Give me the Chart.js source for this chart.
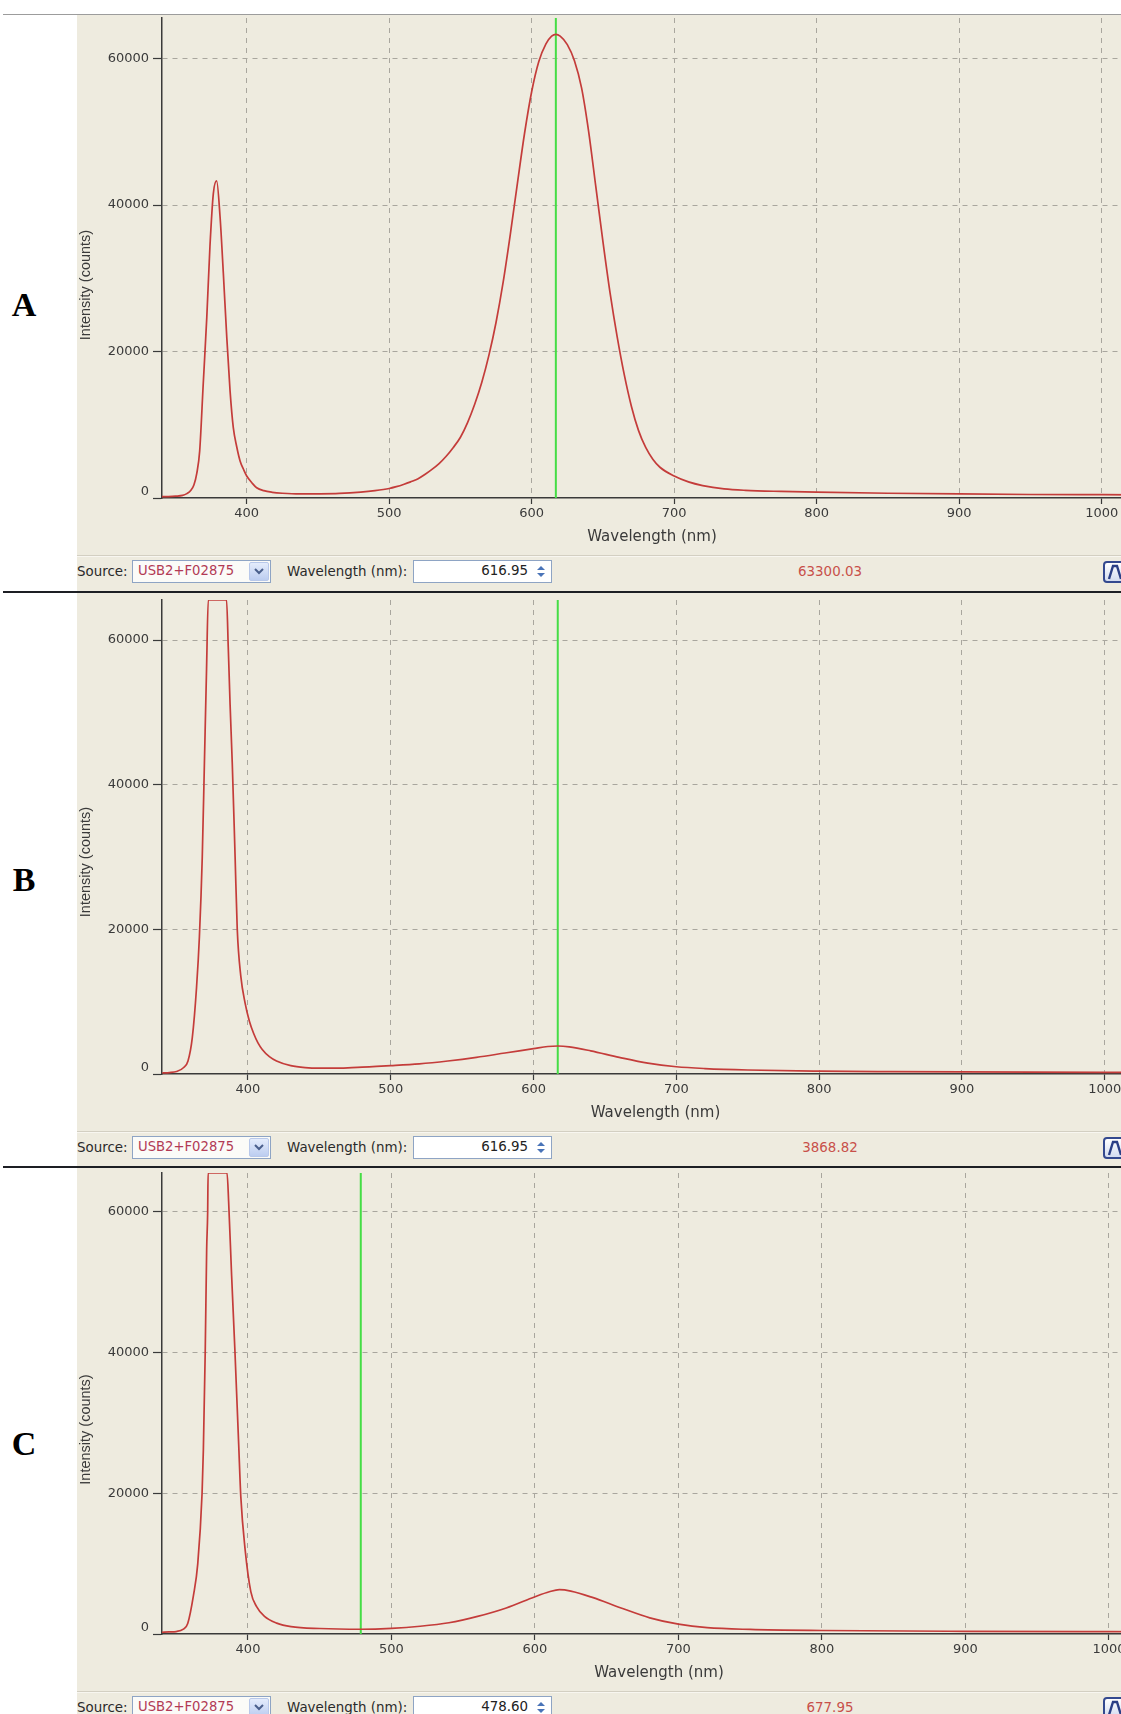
<!DOCTYPE html>
<html>
<head>
<meta charset="utf-8">
<script src="https://cdn.jsdelivr.net/npm/chart.js@4.4.1/dist/chart.umd.min.js"></script>
<style>
  html, body { margin: 0; padding: 0; background: #fff; overflow: hidden; }
  #page { position: relative; width: 1121px; height: 1714px; overflow: hidden; background: #fff; }
  .abs { position: absolute; }
  .panel { position: absolute; left: 77px; width: 1044px; background: #eeebdf; }
  .rule { position: absolute; left: 3px; width: 1118px; }
  .letter { position: absolute; width: 48px; left: 0; text-align: center; font: bold 34px "Liberation Serif", "Times New Roman", serif; color: #000; line-height: 40px; }
  .tbtext { position: absolute; font: 13.4px "DejaVu Sans", sans-serif; color: #2a2a2a; line-height: 16px; white-space: nowrap; }
  .combo { position: absolute; left: 132px; width: 137px; height: 21px; border: 1px solid #8ea4c4; background: #fbfbf8; }
  .combo span { position: absolute; left: 5px; top: 2px; font: 13.2px "DejaVu Sans", sans-serif; color: #b23a55; line-height: 16px; }
  .combo .btn { position: absolute; right: 1px; top: 1px; width: 18px; height: 17px; border: 1px solid #b8c8ea; border-radius: 2px; background: linear-gradient(#e4ecfc, #bccdf0); }
  .field { position: absolute; left: 413px; width: 137px; height: 21px; border: 1px solid #8ea4c4; background: #fff; }
  .field span { position: absolute; right: 23px; top: 2px; font: 13.4px "DejaVu Sans", sans-serif; color: #222; line-height: 16px; }
  .field svg { position: absolute; right: 3px; top: 2px; }
  .readout { position: absolute; width: 120px; margin-left: -60px; text-align: center; font: 13.4px "DejaVu Sans", sans-serif; color: #c8504a; line-height: 16px; }
  .icon { position: absolute; left: 1103px; width: 20px; height: 18px; border: 2px solid #34498f; border-radius: 4px; background: linear-gradient(#ffffff, #d3dcf0); }
  canvas { position: absolute; }
</style>
</head>
<body>
<div id="page"></div>
<script>
// ---------- data ----------
const X_TICKS = [400, 500, 600, 700, 800, 900, 1000];
const Y_TICKS = [0, 20000, 40000, 60000];
const Y_MAX = 65535;

const A_NM = [340, 345, 350, 355, 358, 361, 363, 365, 367, 369.5, 372, 374.2, 376.6, 378.9, 381.3, 383.6, 386, 388.3, 390.6, 393, 395.3, 398, 400, 404, 407, 412, 418, 425, 437, 450, 465, 480, 490, 500, 505, 510, 515, 520, 525, 530, 535, 540, 545, 550, 555, 560, 565, 570, 575, 580, 585, 590, 595, 600, 605, 610, 614, 617, 620, 625, 630, 635, 640, 645, 650, 655, 660, 665, 670, 675, 680, 685, 690, 700, 710, 720, 735, 750, 775, 800, 850, 900, 950, 1000, 1035];
const A_COUNTS = [180, 200, 250, 350, 600, 1100, 1800, 3400, 6400, 15600, 24700, 34300, 41600, 43300, 38400, 30700, 22000, 14700, 9600, 7000, 5100, 3800, 3000, 2000, 1400, 1000, 780, 650, 550, 560, 620, 800, 1000, 1300, 1550, 1850, 2200, 2600, 3200, 3900, 4700, 5700, 6900, 8300, 10300, 12800, 15800, 19500, 24000, 29500, 36000, 43000, 49800, 55500, 59600, 62000, 63050, 63300, 63050, 61900, 59700, 56000, 50000, 42500, 35000, 28000, 22000, 16800, 12500, 9200, 6900, 5300, 4200, 3000, 2200, 1700, 1250, 1050, 900, 800, 650, 550, 480, 450, 430];

const B_NM = [340, 345, 350, 355, 358, 361, 364, 366, 368, 369.5, 371, 372.2, 378, 385, 386.2, 387.5, 389, 391, 392.5, 395, 398, 401, 404, 407, 410, 415, 420, 430, 440, 450, 460, 470, 480, 490, 500, 520, 540, 560, 580, 600, 610, 617, 625, 640, 660, 680, 700, 720, 750, 800, 850, 900, 950, 1000, 1035];
const B_COUNTS = [150, 200, 350, 900, 1800, 5000, 12000, 19000, 30000, 43000, 56000, 65535, 65535, 65535, 59000, 51000, 43000, 30000, 20000, 13500, 9800, 7300, 5600, 4300, 3400, 2400, 1800, 1150, 880, 800, 800, 850, 950, 1050, 1150, 1400, 1800, 2300, 2900, 3500, 3800, 3869, 3750, 3200, 2300, 1500, 1000, 750, 550, 400, 330, 280, 250, 230, 220];

const C_NM = [340, 345, 350, 355, 358, 362, 365, 368, 368.9, 370.2, 371.2, 371.9, 372.2, 385.4, 386.5, 388.6, 390.9, 393.5, 395, 398, 402, 406, 411.5, 420, 430, 450, 478.6, 500, 520, 540, 560, 580, 600, 610, 617, 625, 640, 660, 680, 700, 720, 750, 800, 900, 1000, 1035];
const C_COUNTS = [250, 300, 350, 700, 1500, 5500, 10000, 20000, 26200, 40200, 54700, 60000, 65535, 65535, 61500, 50900, 40200, 27000, 19500, 12000, 6000, 3900, 2500, 1550, 1050, 780, 678, 800, 1100, 1600, 2500, 3700, 5300, 6000, 6300, 6100, 5200, 3700, 2300, 1400, 900, 650, 500, 380, 330, 320];

const CURSOR_NM = [616.95, 616.95, 478.60];
const CURSOR_TEXT = ['616.95', '616.95', '478.60'];
const READOUT = ['63300.03', '3868.82', '677.95'];
const LETTERS = ['A', 'B', 'C'];
const SOURCE = 'USB2+F02875';
const X_TITLE = 'Wavelength (nm)';
const Y_TITLE = 'Intensity (counts)';

// ---------- layout ----------
const RED = '#c43c3a';
const GREEN = '#45dd45';
const GRID = '#a9a69e';
const AXIS = '#3a3a3a';
const TEXT = '#3a3a3a';

const PANELS = [
  { top: 15, axisTop: 18, zero: 498, bottom: 591, xMin: 340.56, xMax: 1028.3, right: 1142, nm: A_NM, counts: A_COUNTS, letterY: 305 },
  { top: 593, axisTop: 600, zero: 1074, bottom: 1166, xMin: 339.8, xMax: 1031.0, right: 1149, nm: B_NM, counts: B_COUNTS, letterY: 880 },
  { top: 1168, axisTop: 1173, zero: 1634, bottom: 1714, xMin: 340.07, xMax: 1032.8, right: 1156, nm: C_NM, counts: C_COUNTS, letterY: 1444 }
];

const page = document.getElementById('page');
function el(cls, css, html) {
  const d = document.createElement('div');
  if (cls) d.className = cls;
  Object.assign(d.style, css);
  if (html !== undefined) d.innerHTML = html;
  page.appendChild(d);
  return d;
}

// top rule
el('rule', { top: '14px', height: '1px', background: '#9c9c9c' });

// y title + the raised "0" label
const sideText = {
  id: 'sideText',
  afterDraw(chart) {
    const ctx = chart.ctx;
    const y = chart.scales.y;
    ctx.save();
    ctx.fillStyle = TEXT;
    ctx.font = '13px "DejaVu Sans"';
    ctx.textAlign = 'right';
    ctx.textBaseline = 'middle';
    ctx.fillText('0', y.right - 13, y.getPixelForValue(0) - 6);
    ctx.translate(9, chart.height / 2);
    ctx.rotate(-Math.PI / 2);
    ctx.font = '14.5px "Liberation Sans"';
    ctx.textAlign = 'center';
    ctx.fillText(Y_TITLE, 0, 0);
    ctx.restore();
  }
};

PANELS.forEach((p, i) => {
  el('panel', { top: p.top + 'px', height: (p.bottom - p.top) + 'px' });
  if (i < 2) el('rule', { top: p.bottom + 'px', height: '2px', background: '#1d1f24' });
  el('letter', { top: (p.letterY - 20) + 'px' }, LETTERS[i]);

  // toolbar
  const z = p.zero;
  const cy = z + 73.5;
  el('abs', { left: '77px', width: '1044px', top: (z + 57) + 'px', height: '1px', background: '#d3cfc2' });
  el('abs', { left: '77px', width: '1044px', top: (z + 58) + 'px', height: '1px', background: '#f8f6f0' });
  el('tbtext', { left: '77px', top: (cy - 8) + 'px' }, 'Source:');
  el('combo', { top: (cy - 11.5) + 'px' },
    '<span>' + SOURCE + '</span><div class="btn"><svg width="18" height="17"><polyline points="5,6 9,10 13,6" fill="none" stroke="#4a5f8c" stroke-width="2"/></svg></div>');
  el('tbtext', { left: '287px', top: (cy - 8) + 'px' }, 'Wavelength (nm):');
  el('field', { top: (cy - 11.5) + 'px' },
    '<span>' + CURSOR_TEXT[i] + '</span><svg width="14" height="17"><polygon points="3,7 7,3 11,7" fill="#4a74b8"/><polygon points="3,10 7,14 11,10" fill="#4a74b8"/></svg>');
  el('readout', { left: '830px', top: (cy - 8) + 'px' }, READOUT[i]);
  el('icon', { top: (cy - 11) + 'px' },
    '<svg width="20" height="18"><polyline points="4,16 8,3 12,3 16,16" fill="none" stroke="#2b3f86" stroke-width="2.4"/></svg>');

  // chart
  const canvas = document.createElement('canvas');
  const w = p.right - 77;
  const h = z + 57 - p.top;
  canvas.width = w;
  canvas.height = h;
  canvas.style.left = '77px';
  canvas.style.top = p.top + 'px';
  canvas.style.width = w + 'px';
  canvas.style.height = h + 'px';
  page.appendChild(canvas);

  new Chart(canvas, {
    type: 'line',
    data: {
      datasets: [
        {
          data: p.nm.map((x, k) => ({ x, y: p.counts[k] })),
          borderColor: RED, borderWidth: 1.7, pointRadius: 0,
          cubicInterpolationMode: 'monotone', fill: false
        },
        {
          data: [{ x: CURSOR_NM[i], y: 0 }, { x: CURSOR_NM[i], y: Y_MAX }],
          borderColor: GREEN, borderWidth: 2, pointRadius: 0, fill: false
        }
      ]
    },
    options: {
      responsive: false,
      animation: false,
      devicePixelRatio: 1,
      layout: { padding: { top: p.axisTop - p.top, left: 0, right: 0, bottom: 0 } },
      plugins: { legend: { display: false }, tooltip: { enabled: false } },
      scales: {
        x: {
          type: 'linear', min: p.xMin, max: p.xMax,
          afterBuildTicks: ax => { ax.ticks = X_TICKS.map(v => ({ value: v })); },
          afterFit: s => { s.height = 57; s.paddingLeft = 0; s.paddingRight = 0; },
          grid: { color: GRID, lineWidth: 1, tickLength: 6, tickColor: AXIS, tickWidth: 1.2 },
          border: { color: AXIS, width: 1.5, dash: [5, 5] },
          ticks: { callback: v => String(v), padding: 2, maxRotation: 0, autoSkip: false, color: TEXT, font: { family: 'DejaVu Sans', size: 13 } },
          title: { display: true, text: X_TITLE, color: TEXT, font: { family: 'DejaVu Sans', size: 15 }, padding: { top: 0, bottom: 9 } }
        },
        y: {
          min: 0, max: Y_MAX,
          afterBuildTicks: ax => { ax.ticks = Y_TICKS.map(v => ({ value: v })); },
          afterFit: s => { s.width = 85; s.paddingTop = 0; s.paddingBottom = 0; },
          grid: { color: c => (c.tick && c.tick.value === 0 ? 'rgba(0,0,0,0)' : GRID), lineWidth: 1, tickLength: 9, tickColor: AXIS, tickWidth: 1.2 },
          border: { color: AXIS, width: 1.5, dash: [5, 5] },
          ticks: { callback: v => (v === 0 ? '' : String(v)), padding: 4, color: TEXT, font: { family: 'DejaVu Sans', size: 13 } }
        }
      }
    },
    plugins: [sideText]
  });
});
</script>
</body>
</html>
